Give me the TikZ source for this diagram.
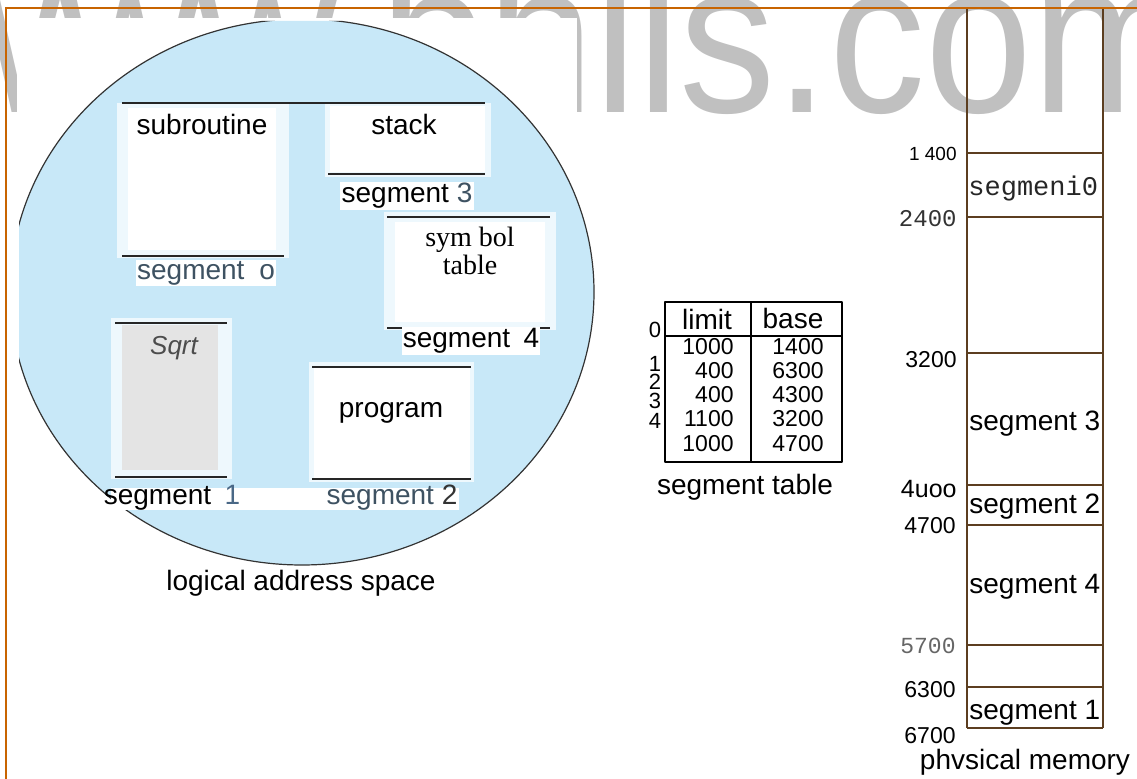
\documentclass[tikz,border=0pt]{standalone}
\usepackage{fontspec}
\setmainfont{Liberation Sans}
\newfontfamily\lsserif{Liberation Serif}
\newfontfamily\lsmono{Liberation Mono}
\usepackage{graphicx}
\definecolor{ellblue}{RGB}{200,232,248}
\definecolor{halo}{RGB}{238,248,253}
\definecolor{wmgray}{RGB}{192,192,192}
\definecolor{frameorange}{RGB}{200,100,0}
\definecolor{membrown}{RGB}{92,62,32}
\definecolor{slate}{RGB}{62,82,98}
\definecolor{numblue}{RGB}{74,104,134}
\definecolor{sqrtgray}{RGB}{228,228,228}

\begin{document}
\begin{tikzpicture}[x=0.5pt,y=-0.5pt,line join=round,
  txt/.style={inner sep=0pt,font=\fontsize{14}{16}\selectfont},
  seglbl/.style={txt,fill=white,inner sep=0.6pt},
  tnum/.style={inner sep=0pt,font=\fontsize{11.5}{13}\selectfont},
  addr/.style={inner sep=0pt,anchor=east,font=\fontsize{11.5}{13}\selectfont},
  monoaddr/.style={addr,font=\lsmono\fontsize{11.5}{13}\selectfont},
  memlbl/.style={txt,anchor=west},
  memline/.style={draw=membrown,line width=0.75pt},
  segline/.style={draw=black!85,line width=1pt}]
\useasboundingbox (0,0) rectangle (1137,779);
\node[anchor=base west,inner sep=0pt,text=wmgray] (wm) at (-79,113)
  {\scalebox{0.89}[1]{\fontsize{108}{108}\selectfont www.bhlls.com}};
\fill[white] (17,18) rectangle (577,125);
% logical address space
\begin{scope}
  \clip (19,21) -- (1137,21) -- (1137,779) -- (0,779) -- (0,378) -- (19,378) -- cycle;
  \draw[fill=ellblue,draw=black!80,line width=0.6pt] (302,292) ellipse [x radius=146pt,y radius=136.5pt];
\end{scope}
\fill[halo] (117,103) rectangle (289,258);
\fill[white] (128,108) rectangle (276,250);
\fill[halo] (325,103) rectangle (491,177);
\fill[white] (330,106) rectangle (485,172);
\fill[halo] (384,212) rectangle (556,330);
\fill[white] (395,222) rectangle (545,322);
\fill[halo] (111,318) rectangle (232,479);
\fill[sqrtgray] (122,325) rectangle (218,470);
\fill[halo] (309,362) rectangle (474,482);
\fill[white] (314,366) rectangle (470,478);
\draw[segline] (122,103) -- (485,103);
\draw[segline] (122,256) -- (284,256);
\draw[segline] (328,174) -- (485,174);
\draw[segline] (387,217) -- (550,217);
\draw[segline] (387,328) -- (550,328);
\draw[segline] (115,323) -- (227,323);
\draw[segline] (115,477) -- (227,477);
\draw[segline] (312,367) -- (471,367);
\draw[segline] (312,479) -- (471,479);
\fill[white] (111,488) rectangle (459,510);
\node[txt] (sub) at (202,125) {subroutine};
\node[txt] (stk) at (404,125) {stack};
\node[txt,font=\lsserif\fontsize{14}{11.5}\selectfont,align=center] (symtab) at (470,251) {sym bol\\table};
\node[txt,font=\fontsize{13}{15}\selectfont\itshape,text=black!70] (sqrt) at (174,348) {Sqrt};
\node[txt] (prog) at (391,413) {program};
\node[seglbl,text=slate] (seg0) at (206,273) {segment\hspace{0.25em} o};
\node[seglbl] (seg3) at (407,196) {segment \textcolor{slate}{3}};
\node[seglbl] (seg4) at (471,341) {segment\hspace{0.2em} 4};
\node[txt] (seg1) at (172,498) {segment\hspace{0.2em} \textcolor{numblue}{1}};
\node[txt,text=slate] (seg2) at (392,498) {segment \textcolor{black!80}{2}};
\node[txt] (las) at (301,583) {logical address space};
% segment table
\draw[line width=1pt] (665,302) rectangle (842,462);
\draw[line width=1pt] (751,302) -- (751,462);
\draw[line width=1pt] (665,336) -- (842,336);
\node[txt] (limit) at (707,319) {limit};
\node[txt] (base) at (793,319) {base};
\foreach \lim/\bas/\yy [count=\i from 0] in {1000/1400/347,400/6300/371,400/4300/395,1100/3200/419,1000/4700/444}{
  \node[tnum,anchor=east] (lim\i) at (734,\yy) {\lim};
  \node[tnum,anchor=east] (bas\i) at (824,\yy) {\bas};
}
\foreach \i/\yy in {0/330,1/364,2/382,3/401,4/421}
  \node[tnum,font=\fontsize{11}{13}\selectfont] (idx\i) at (655,\yy) {\i};
\node[txt] (segtab) at (745,487) {segment table};
% frame
\draw[frameorange,line width=1pt] (5,8) -- (1137,8);
\draw[frameorange,line width=1pt] (6,8) -- (6,779);
% physical memory
\draw[memline] (967,9) -- (967,728);
\draw[memline] (1103,9) -- (1103,728);
\foreach \yy in {153,217,353,485,525,645,687,728}
  \draw[memline] (967,\yy) -- (1103,\yy);
\node[addr,font=\fontsize{9.5}{11}\selectfont] (a1400) at (957,154) {1 400};
\node[monoaddr,text=black!80,font=\lsmono\fontsize{12}{14}\selectfont] (a2400) at (957,219) {2400};
\node[addr] (a3200) at (957,360) {3200};
\node[addr,font=\fontsize{12.5}{14}\selectfont] (a4300) at (957,489) {4uoo};
\node[addr] (a4700) at (956,526) {4700};
\node[monoaddr,text=black!60] (a5700) at (956,646) {5700};
\node[addr] (a6300) at (956,690) {6300};
\node[addr] (a6700) at (956,736) {6700};
\node[memlbl,font=\lsmono\fontsize{13.5}{15}\selectfont,text=black!85] (m0) at (968,189) {segmeni0};
\node[memlbl] (m3) at (969,424) {segment 3};
\node[memlbl] (m2) at (969,507) {segment 2};
\node[memlbl] (m4) at (969,587) {segment 4};
\node[memlbl] (m1) at (969,713) {segment 1};
\node[txt] (pm) at (1025,762) {phvsical memory};
\end{tikzpicture}
\end{document}
